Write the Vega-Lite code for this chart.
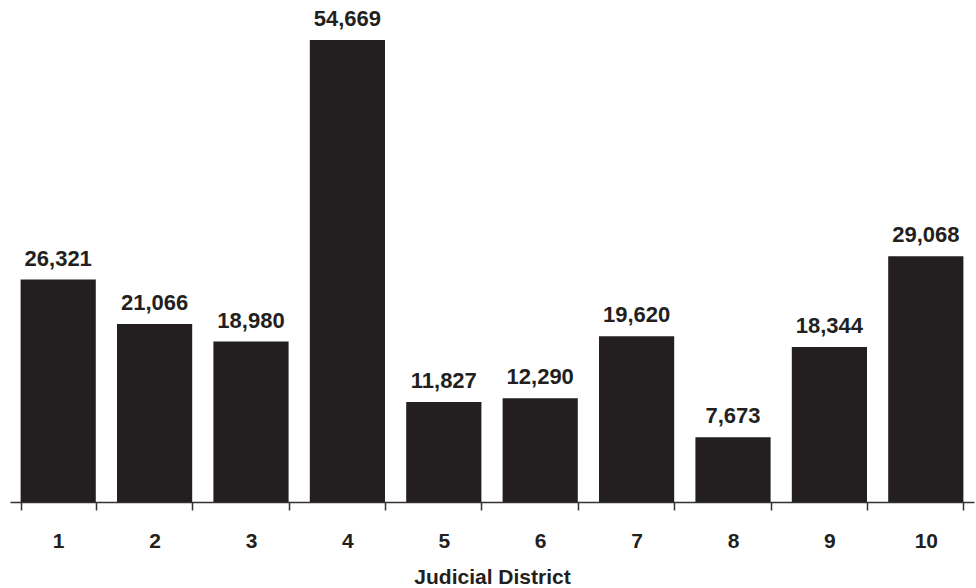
{
  "$schema": "https://vega.github.io/schema/vega-lite/v6.json",
  "width": 964,
  "height": 502,
  "autosize": {"type": "none"},
  "padding": {"left": 10, "top": 0, "right": 2, "bottom": 86},
  "background": "white",
  "config": {"view": {"stroke": null}, "font": "Liberation Sans"},
  "data": {"values": [
    {"district": "1", "count": 26321},
    {"district": "2", "count": 21066},
    {"district": "3", "count": 18980},
    {"district": "4", "count": 54669},
    {"district": "5", "count": 11827},
    {"district": "6", "count": 12290},
    {"district": "7", "count": 19620},
    {"district": "8", "count": 7673},
    {"district": "9", "count": 18344},
    {"district": "10", "count": 29068}
  ]},
  "encoding": {
    "x": {
      "field": "district", "type": "ordinal", "sort": null,
      "scale": {"paddingInner": 0.22, "paddingOuter": 0.11},
      "axis": {
        "title": "Judicial District", "labelAngle": 0,
        "tickBand": "extent", "tickSize": 8, "tickColor": "#333", "tickWidth": 1.5,
        "domainColor": "#333", "domainWidth": 1.5,
        "labelFontSize": 21, "labelFontWeight": "bold", "labelColor": "#231f20", "labelPadding": 20,
        "titleFontSize": 21, "titleFontWeight": "bold", "titleColor": "#231f20", "titlePadding": 15
      }
    },
    "y": {
      "field": "count", "type": "quantitative",
      "scale": {"domain": [0, 59400], "nice": false},
      "axis": null
    }
  },
  "layer": [
    {"mark": {"type": "bar", "color": "#231f20"}},
    {"mark": {"type": "text", "baseline": "alphabetic", "dy": -14, "fontSize": 22, "fontWeight": "bold", "color": "#231f20"},
     "encoding": {"text": {"field": "count", "type": "quantitative", "format": ","}}}
  ]
}
